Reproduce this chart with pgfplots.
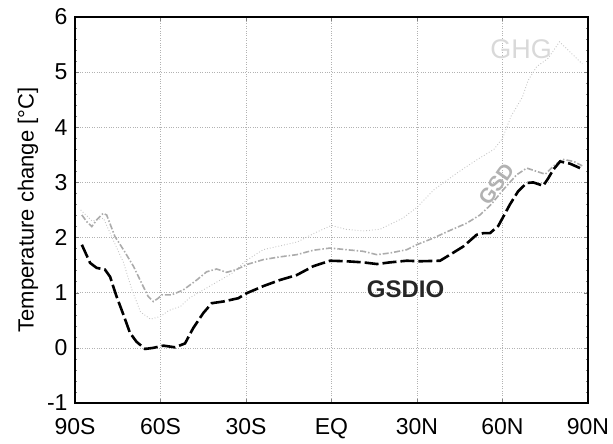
\documentclass[border=0pt]{standalone}
\usepackage{fontspec}
\setmainfont{Liberation Sans}
\usepackage{pgfplots}
\pgfplotsset{compat=1.18}
\begin{document}
\begin{tikzpicture}
\begin{axis}[
  name=main,
  scale only axis, width=513pt, height=386pt,
  xmin=-90, xmax=90, ymin=-1, ymax=6,
  xtick={-90,-60,-30,0,30,60,90},
  xticklabels={90S,60S,30S,EQ,30N,60N,90N},
  ytick={-1,0,1,2,3,4,5,6},
  minor y tick num=4,
  /pgf/number format/assume math mode=true,
  tick label style={font=\fontsize{23}{27}\selectfont},
  xticklabel style={yshift=-12pt},
  yticklabel style={xshift=-4pt},
  ylabel={Temperature change [°C]},
  ylabel style={font=\fontsize{22}{26}\selectfont, yshift=2pt},
  axis line style={line width=1.5pt},
  grid=major,
  major grid style={gray!60, dotted, line width=0.6pt},
  tick style={gray, thin},
  major tick length=4pt, minor tick length=2.5pt,
  tick align=inside,
  clip=false,
]
% GHG
\addplot[gray!45, line width=0.9pt, dotted] coordinates {
(-88,2.5) (-84,2.3) (-80,2.35) (-77,2.0) (-73,1.55) (-70,1.05) (-67,0.65) (-63.5,0.52) (-60,0.57) (-57,0.68) (-53,0.75) (-50,0.9) (-45,1.05) (-40,1.2) (-35,1.35) (-30,1.58) (-24,1.78) (-18,1.85) (-12,1.92) (-6,2.08) (0,2.22) (5,2.15) (11,2.12) (17,2.15) (25,2.35) (30,2.55) (36,2.87) (44,3.17) (51,3.41) (57,3.6) (60,3.8) (63,4.2) (67,4.55) (69,4.85) (72,5.1) (76,5.25) (80,5.55) (84,5.35) (88,5.15)
};
% GSD
\addplot[gray!65, line width=1.6pt, dash pattern=on 6pt off 2pt on 1.5pt off 2pt] coordinates {
(-87.6,2.41) (-85.9,2.29) (-84.1,2.2) (-82.4,2.32) (-80.1,2.44) (-78.9,2.41) (-76,2.02) (-73,1.78) (-69.5,1.48) (-66.6,1.17) (-64.3,0.93) (-62.5,0.84) (-60.8,0.9) (-59.6,0.96) (-56.1,0.96) (-52,1.05) (-47.3,1.23) (-43.8,1.38) (-40.3,1.43) (-36.8,1.37) (-33.3,1.42) (-29.8,1.51) (-23.9,1.6) (-18.1,1.65) (-12.2,1.69) (-6.4,1.77) (-0.5,1.81) (5.3,1.78) (11.2,1.75) (15.9,1.69) (20.5,1.72) (26.4,1.78) (29.9,1.87) (35.7,1.99) (41.6,2.13) (47.4,2.26) (52.1,2.41) (56,2.6) (60.3,2.87) (65,3.14) (68.5,3.26) (72,3.2) (75,3.15) (78,3.3) (81,3.42) (85,3.38) (88,3.3)
};
% GSDIO
\addplot[black, line width=2.6pt, dash pattern=on 14pt off 4pt] coordinates {
(-87.6,1.87) (-84.7,1.54) (-82.4,1.45) (-79.5,1.42) (-77.7,1.29) (-75.4,0.93) (-73,0.6) (-70.7,0.27) (-68.4,0.11) (-65.4,-0.02) (-62.5,0.0) (-59,0.04) (-54.9,0.01) (-51.4,0.08) (-48.5,0.36) (-45,0.63) (-42,0.81) (-38,0.84) (-32.7,0.9) (-29.8,0.99) (-23.9,1.12) (-18.1,1.23) (-12.2,1.32) (-6.4,1.48) (-0.5,1.58) (5.3,1.57) (11.2,1.55) (15.9,1.52) (20.5,1.55) (26.4,1.58) (31.1,1.57) (38.1,1.58) (41.6,1.69) (46.3,1.84) (50.9,2.05) (53.3,2.08) (55.6,2.08) (58.5,2.21) (60.3,2.38) (62.6,2.6) (65.5,2.84) (68.5,2.99) (70.8,3.0) (74.3,2.94) (76.1,3.08) (77.8,3.23) (80.2,3.38) (83.7,3.34) (87.2,3.26)
};
\node[font=\bfseries\fontsize{24}{28}\selectfont, text=black!85] at (axis cs:26,1.07) {GSDIO};
\node[font=\bfseries\fontsize{21}{25}\selectfont, text=gray!60, rotate=55, inner sep=0pt] at (axis cs:57.8,2.97) {GSD};
\node[font=\fontsize{27}{31}\selectfont, text=gray!30] at (axis cs:66.5,5.41) {GHG};
\end{axis}
\pgfresetboundingbox
\path ([xshift=-75pt,yshift=-41pt]main.south west) rectangle ([xshift=25pt,yshift=17pt]main.north east);
\end{tikzpicture}
\end{document}
